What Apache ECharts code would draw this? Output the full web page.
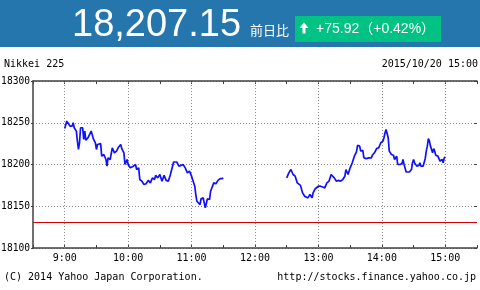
<!DOCTYPE html>
<html><head><meta charset="utf-8">
<script src="https://cdn.jsdelivr.net/npm/echarts@6/dist/echarts.min.js"></script>
<style>html,body{margin:0;padding:0;background:#fff}#c{width:480px;height:290px}</style>
</head><body><div id="c"></div>
<script>
// ---- data (minutes since midnight) ----
const morningTimes = [540,542,545,547,548,549,551,552,553,554,555,557,558,559,560,562,563,565,566,567,569,570,571,572,574,575,577,578,579,580,581,583,585,587,589,591,593,594,596,597,599,600,602,605,607,608,610,611,613,615,617,619,621,623,625,626,628,630,632,634,636,638,640,642,643,644,646,648,650,652,654,656,658,660,661,663,664,665,666,668,669,671,672,673,675,677,678,679,681,683,685,687,689,690];
const morningValues = [18243,18252,18246,18246,18250,18244,18240,18228,18218,18226,18244,18244,18230,18240,18229,18232,18234,18240,18236,18231,18226,18218,18224,18226,18225,18210,18212,18214,18206,18198,18208,18206,18220,18214,18216,18221,18224,18219,18214,18200,18206,18200,18196,18198,18200,18194,18196,18182,18180,18176,18177,18181,18178,18184,18182,18187,18184,18188,18180,18187,18181,18180,18188,18198,18203,18202,18203,18198,18199,18200,18196,18190,18192,18186,18184,18174,18164,18156,18158,18152,18159,18160,18154,18148,18159,18158,18168,18167,18178,18177,18181,18183,18183,18184];
const afternoonTimes = [750,752,754,756,758,760,761,763,765,767,768,770,772,774,775,777,778,780,782,784,786,788,790,792,793,795,797,799,801,803,805,806,808,810,812,813,814,816,817,819,820,822,823,825,828,830,831,833,835,837,839,841,842,843,844,845,846,847,848,849,851,852,854,855,857,859,860,861,863,864,866,868,869,870,871,873,875,876,877,879,881,882,883,884,885,886,887,888,889,890,891,893,895,897,898,899,900];
const afternoonValues = [18184,18190,18194,18188,18186,18178,18176,18175,18166,18162,18164,18160,18164,18160,18166,18171,18172,18174,18174,18173,18172,18178,18180,18188,18188,18184,18180,18181,18180,18182,18186,18194,18188,18196,18202,18200,18210,18215,18223,18222,18216,18217,18208,18207,18208,18208,18211,18214,18219,18220,18226,18228,18232,18238,18242,18240,18232,18216,18214,18212,18211,18206,18210,18200,18200,18201,18206,18200,18191,18190,18191,18194,18202,18206,18202,18198,18199,18202,18198,18198,18207,18216,18222,18231,18228,18222,18224,18214,18219,18216,18211,18210,18204,18206,18202,18208,18209];
const previousClose = 18131.23;
const hourTicks = [540,600,660,720,780,840,900];
const yTicks = [18100,18150,18200,18250,18300];
const lastPrice = '18,207.15';
const changeText = '+75.92（+0.42%）';
const titleText = 'Nikkei 225';
const dateText = '2015/10/20 15:00';

const lineData = [];
morningTimes.forEach((t,i)=>lineData.push([t, morningValues[i]]));
lineData.push([720, null]);
afternoonTimes.forEach((t,i)=>lineData.push([t, afternoonValues[i]]));

const mono = '"DejaVu Sans Mono", "Liberation Mono", monospace';
const gridDot = {color:'#8a8a8a', width:1, type:[1,2]};

const chart = echarts.init(document.getElementById('c'), null, {renderer:'canvas'});
const fmtTime = v => (v % 60 === 0) ? (Math.floor(v/60) + ':00') : '';
chart.setOption({
  animation:false,
  grid:{left:33, right:3, top:81, bottom:42, containLabel:false, outerBoundsMode:'none'},
  xAxis:[{
    type:'value', min:510, max:930, interval:30,
    axisLine:{show:true, lineStyle:{color:'#404040', width:1.5}},
    axisTick:{show:true, inside:true, length:3, lineStyle:{color:'#404040'}},
    axisLabel:{formatter:fmtTime, color:'#000', fontFamily:mono, fontSize:10, margin:5},
    splitLine:{show:false}
  },{
    type:'value', position:'top', min:510, max:930, interval:30,
    axisLine:{show:true, onZero:false, lineStyle:{color:'#404040', width:1.5}},
    axisTick:{show:true, inside:true, length:3, lineStyle:{color:'#404040'}},
    axisLabel:{show:false}, splitLine:{show:false}
  }],
  yAxis:[{
    type:'value', min:18100, max:18300, interval:50,
    axisLine:{show:true, lineStyle:{color:'#404040', width:1.5}},
    axisTick:{show:true, length:2, lineStyle:{color:'#404040'}},
    axisLabel:{color:'#000', fontFamily:mono, fontSize:9.6, margin:3, formatter: v => String(v)},
    splitLine:{show:true, lineStyle:gridDot}
  },{
    type:'value', position:'right', min:18100, max:18300, interval:50,
    axisLine:{show:false}, axisTick:{show:true, inside:true, length:3, lineStyle:{color:'#404040'}},
    axisLabel:{show:false}, splitLine:{show:false}
  }],
  series:[{
    type:'line', data:lineData, showSymbol:false, connectNulls:false,
    lineStyle:{color:'#1010ff', width:1.7}, z:5,
    markLine:{
      silent:true, symbol:'none', label:{show:false}, animation:false,
      data:[
        ...hourTicks.map(h=>({xAxis:h, lineStyle:gridDot})),
        {yAxis:previousClose, lineStyle:{color:'#d40000', width:1, type:'solid'}}
      ]
    }
  }],
  graphic:[
    {type:'rect', shape:{x:0,y:0,width:480,height:47}, style:{fill:'#2676ae'}},
    {type:'text', x:72, y:26, style:{text:lastPrice, fill:'#fff', font:'38px "Liberation Sans", Arial, sans-serif', verticalAlign:'middle'}},
    {type:'text', x:250, y:30, style:{text:'前日比', fill:'#fff', font:'13px "Noto Sans CJK JP", sans-serif', verticalAlign:'middle'}},
    {type:'rect', shape:{x:295,y:16,width:146,height:26}, style:{fill:'#00c283'}},
    {type:'polygon', shape:{points:[[304,22.5],[299.5,28],[302.5,28],[302.5,33.5],[305.5,33.5],[305.5,28],[308.5,28]]}, style:{fill:'#fff'}},
    {type:'text', x:316, y:29, style:{text:changeText, fill:'#fff', font:'14px "Liberation Sans", "Noto Sans CJK JP", sans-serif', verticalAlign:'middle'}},
    {type:'text', x:4, y:64, style:{text:titleText, fill:'#000', font:'10px '+mono, verticalAlign:'middle'}},
    {type:'text', x:478, y:64, style:{text:dateText, fill:'#000', font:'10px '+mono, align:'right', verticalAlign:'middle'}},
    {type:'text', x:4, y:277, style:{text:'(C) 2014 Yahoo Japan Corporation.', fill:'#000', font:'10px '+mono, verticalAlign:'middle'}},
    {type:'text', x:476, y:277, style:{text:'http://stocks.finance.yahoo.co.jp', fill:'#000', font:'10px '+mono, align:'right', verticalAlign:'middle'}}
  ]
});
</script></body></html>
